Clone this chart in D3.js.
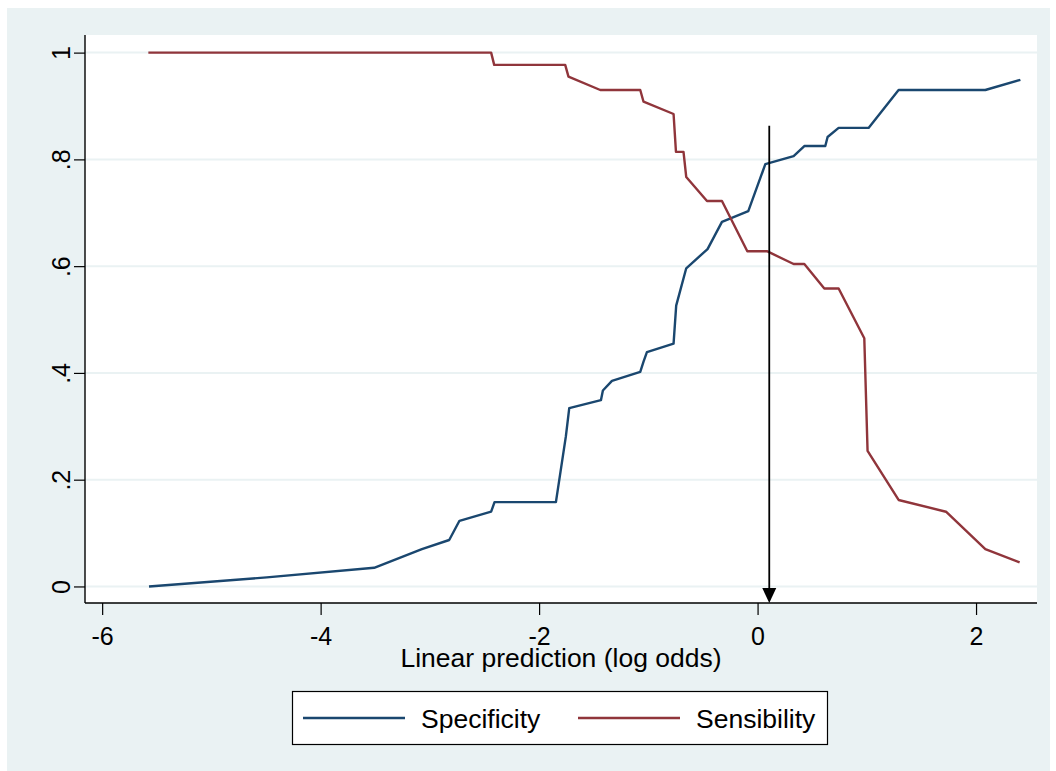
<!DOCTYPE html>
<html>
<head>
<meta charset="utf-8">
<script src="https://cdn.jsdelivr.net/npm/d3@7"></script>
<style>
  body { margin: 0; background: #ffffff; }
  svg { display: block; font-family: Arial, "Liberation Sans", Helvetica, sans-serif; }
</style>
</head>
<body>
<svg id="chart" width="1056" height="771"></svg>
<script>
// cutpoints (log odds) and values
var specX = [-5.571, -4.493, -3.510, -3.073, -2.823, -2.729, -2.439, -2.408, -1.846, -1.755, -1.724,
             -1.434, -1.416, -1.333, -1.074, -1.044, -1.013, -0.769, -0.745, -0.653, -0.458, -0.326,
             -0.085, 0.071, 0.330, 0.428, 0.620, 0.641, 0.742, 1.016, 1.291, 1.728, 2.085, 2.406];
var specY = [0, 0.017, 0.035, 0.070, 0.087, 0.123, 0.140, 0.158, 0.158, 0.281, 0.334,
             0.349, 0.367, 0.385, 0.402, 0.421, 0.439, 0.455, 0.526, 0.596, 0.632, 0.683,
             0.703, 0.791, 0.806, 0.825, 0.825, 0.842, 0.859, 0.859, 0.930, 0.930, 0.930, 0.949];

var sensX = [-5.577, -4.490, -3.510, -3.071, -2.823, -2.723, -2.439, -2.411, -1.761, -1.731,
             -1.440, -1.074, -1.044, -0.769, -0.747, -0.678, -0.653, -0.463, -0.326, -0.094,
             0.086, 0.330, 0.428, 0.611, 0.742, 0.977, 1.007, 1.291, 1.725, 2.085, 2.399];
var sensY = [1, 1, 1, 1, 1, 1, 1, 0.977, 0.977, 0.955,
             0.930, 0.930, 0.908, 0.885, 0.814, 0.814, 0.767, 0.722, 0.722, 0.628,
             0.628, 0.604, 0.604, 0.558, 0.558, 0.465, 0.254, 0.162, 0.140, 0.070, 0.045];

var xTicks = [-6, -4, -2, 0, 2];
var xTickLabels = ["-6", "-4", "-2", "0", "2"];
var yTicks = [0, 0.2, 0.4, 0.6, 0.8, 1];
var yTickLabels = ["0", ".2", ".4", ".6", ".8", "1"];

// cutoff marked with the arrow
var cutoffX = 0.107;
var cutoffTop = 0.863;

var seriesNames = ["Specificity", "Sensibility"];
var seriesColors = ["#1a476f", "#90353b"];

var svg = d3.select("#chart");

// outer grey-blue frame
svg.append("rect")
  .attr("x", 7).attr("y", 8)
  .attr("width", 1043).attr("height", 763)
  .attr("fill", "#eaf2f3");

var plot = { left: 85, right: 1037, top: 35, bottom: 603 };

svg.append("rect")
  .attr("x", plot.left).attr("y", plot.top)
  .attr("width", plot.right - plot.left).attr("height", plot.bottom - plot.top)
  .attr("fill", "#ffffff");

var x = d3.scaleLinear().domain([-6.157, 2.558]).range([plot.left, plot.right]);
var y = d3.scaleLinear().domain([-0.031, 1.033]).range([plot.bottom, plot.top]);

// horizontal grid
svg.append("g").selectAll("line")
  .data(yTicks)
  .enter()
  .append("line")
  .attr("x1", plot.left).attr("x2", plot.right)
  .attr("y1", function (d) { return y(d); })
  .attr("y2", function (d) { return y(d); })
  .attr("stroke", "#eaf2f3")
  .attr("stroke-width", 2);

// the two curves
var line = d3.line()
  .x(function (d) { return x(d[0]); })
  .y(function (d) { return y(d[1]); });

var specData = specX.map(function (v, i) { return [v, specY[i]]; });
var sensData = sensX.map(function (v, i) { return [v, sensY[i]]; });

[specData, sensData].forEach(function (data, i) {
  svg.append("path")
    .datum(data)
    .attr("d", line)
    .attr("fill", "none")
    .attr("stroke", seriesColors[i])
    .attr("stroke-width", 2.4)
    .attr("stroke-linejoin", "round");
});

// arrow at the cutoff
svg.append("line")
  .attr("x1", x(cutoffX)).attr("x2", x(cutoffX))
  .attr("y1", y(cutoffTop)).attr("y2", plot.bottom - 12)
  .attr("stroke", "#000")
  .attr("stroke-width", 1.8);

svg.append("path")
  .attr("d", "M" + (x(cutoffX) - 7) + "," + (plot.bottom - 15) +
             "L" + (x(cutoffX) + 7) + "," + (plot.bottom - 15) +
             "L" + x(cutoffX) + "," + plot.bottom + "Z")
  .attr("fill", "#000");

// y axis
var yAxis = d3.axisLeft(y)
  .tickValues(yTicks)
  .tickSize(11)
  .tickFormat(function (d, i) { return yTickLabels[i]; });

var gy = svg.append("g")
  .attr("transform", "translate(" + plot.left + ",0)")
  .call(yAxis);
gy.select(".domain").attr("d", "M0," + plot.top + "V" + plot.bottom).attr("stroke", "#000").attr("stroke-width", 1.4);
gy.selectAll(".tick line").attr("stroke", "#000").attr("stroke-width", 1.2);
gy.selectAll(".tick text")
  .attr("font-size", 25)
  .attr("fill", "#000")
  .attr("text-anchor", "middle")
  .attr("dy", null)
  .attr("x", null)
  .attr("transform", "translate(-15,0) rotate(-90)");

// x axis
var xAxis = d3.axisBottom(x)
  .tickValues(xTicks)
  .tickSize(12)
  .tickFormat(function (d, i) { return xTickLabels[i]; });

var gx = svg.append("g")
  .attr("transform", "translate(0," + plot.bottom + ")")
  .call(xAxis);
gx.select(".domain").attr("d", "M" + plot.left + ",0H" + plot.right).attr("stroke", "#000").attr("stroke-width", 1.4);
gx.selectAll(".tick line").attr("stroke", "#000").attr("stroke-width", 1.2);
gx.selectAll(".tick text")
  .attr("font-size", 25)
  .attr("fill", "#000")
  .attr("dy", null)
  .attr("y", 41.5);

svg.append("text")
  .attr("x", (plot.left + plot.right) / 2)
  .attr("y", 667)
  .attr("text-anchor", "middle")
  .attr("font-size", 26.5)
  .text("Linear prediction (log odds)");

// legend
var legend = svg.append("g");
legend.append("rect")
  .attr("x", 292.5).attr("y", 691.5)
  .attr("width", 535).attr("height", 53)
  .attr("fill", "#fff")
  .attr("stroke", "#000")
  .attr("stroke-width", 1.2);

var legendLineX = [303, 578];
var legendTextX = [421, 696];
seriesNames.forEach(function (name, i) {
  legend.append("line")
    .attr("x1", legendLineX[i]).attr("x2", legendLineX[i] + 102)
    .attr("y1", 718).attr("y2", 718)
    .attr("stroke", seriesColors[i])
    .attr("stroke-width", 2.4);
  legend.append("text")
    .attr("x", legendTextX[i])
    .attr("y", 728)
    .attr("font-size", 26.5)
    .text(name);
});
</script>
</body>
</html>
